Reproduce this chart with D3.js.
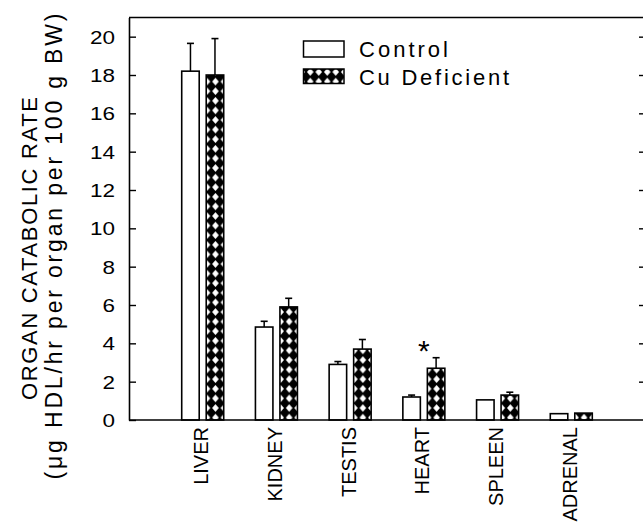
<!DOCTYPE html>
<html>
<head>
<meta charset="utf-8">
<script src="https://cdn.jsdelivr.net/npm/d3@7"></script>
<style>
  html, body { margin: 0; padding: 0; background: #fff; }
  svg { display: block; }
  text { font-family: "Liberation Sans", Arial, Helvetica, sans-serif; fill: #000; }
</style>
</head>
<body>
<svg id="chart" width="643" height="524"></svg>
<script>
// ---- data ----
const categories = ["LIVER", "KIDNEY", "TESTIS", "HEART", "SPLEEN", "ADRENAL"];
const seriesNames = ["Control", "Cu Deficient"];
const controlValues = [18.2, 4.85, 2.9, 1.2, 1.05, 0.33];
const controlErrors = [1.45, 0.3, 0.15, 0.1, 0.0, 0.0];
const cuValues = [18.0, 5.9, 3.7, 2.7, 1.3, 0.36];
const cuErrors = [1.9, 0.45, 0.5, 0.55, 0.15, 0.0];
const yTickValues = [0, 2, 4, 6, 8, 10, 12, 14, 16, 18, 20];
const significantCategories = ["HEART"];
const yTitleLine1 = "ORGAN CATABOLIC RATE";
const yTitleLine2 = "(\u03BCg HDL/hr per organ per 100 g BW)";

(function () {
// ---- layout ----
const svg = d3.select("#chart");
const plotLeft = 129, plotRight = 645, plotTop = 17.5, plotBottom = 420;

const x = d3.scalePoint().domain(categories).range([plotLeft, plotRight]).padding(1);
const sub = d3.scaleBand().domain(["control", "cu"]).range([-21, 21]).paddingInner(0.286).paddingOuter(0);
const y = d3.scaleLinear().domain([0, 21]).range([plotBottom, plotTop]);

// hatch pattern (black lattice with white diamond holes)
const defs = svg.append("defs");
const pw = 8.5, ph = 9.6, g = 0.95;
const pat = defs.append("pattern").attr("id", "xhatch")
  .attr("patternUnits", "userSpaceOnUse").attr("width", pw).attr("height", ph);
pat.append("rect").attr("width", pw).attr("height", ph).attr("fill", "#000");
pat.append("polygon")
  .attr("points", `${pw/2},${g} ${pw-g},${ph/2} ${pw/2},${ph-g} ${g},${ph/2}`)
  .attr("fill", "#fff");

const rows = categories.map((c, i) => ({
  cat: c,
  bars: [
    { key: "control", value: controlValues[i], err: controlErrors[i] },
    { key: "cu", value: cuValues[i], err: cuErrors[i] }
  ]
}));

// axes frame
svg.append("line").attr("x1", plotLeft).attr("x2", 643).attr("y1", plotTop).attr("y2", plotTop)
  .attr("stroke", "#000").attr("stroke-width", 1.6);

const yAxis = d3.axisRight(y).tickValues(yTickValues).tickSize(7).tickFormat("").tickSizeOuter(0);
svg.append("g").attr("transform", `translate(${plotLeft},0)`).call(yAxis)
  .call(gg => gg.select(".domain").attr("stroke-width", 1.6))
  .call(gg => gg.selectAll(".tick line").attr("stroke-width", 1.4));

// right-side ticks
const yAxisR = d3.axisLeft(y).tickValues(yTickValues.filter(v => v > 0)).tickSize(4).tickFormat("");
svg.append("g").attr("transform", `translate(643,0)`).call(yAxisR)
  .call(gg => gg.select(".domain").remove())
  .call(gg => gg.selectAll(".tick line").attr("stroke-width", 1.4));

// y tick labels
svg.append("g").selectAll("text").data(yTickValues).join("text")
  .attr("x", 115).attr("y", d => y(d) + 7)
  .attr("text-anchor", "end")
  .attr("font-size", 19)
  .attr("textLength", d => String(d).length === 2 ? 25 : 12.5)
  .attr("lengthAdjust", "spacingAndGlyphs")
  .text(d => d);

// y axis titles
svg.append("text")
  .attr("transform", `translate(36.5,248.5) rotate(-90)`)
  .attr("text-anchor", "middle").attr("font-size", 22)
  .attr("textLength", 303).attr("lengthAdjust", "spacing")
  .text(yTitleLine1);
svg.append("text")
  .attr("transform", `translate(62,246.5) rotate(-90)`)
  .attr("text-anchor", "middle").attr("font-size", 23)
  .attr("textLength", 466).attr("lengthAdjust", "spacing")
  .text(yTitleLine2);

// bars
const groups = svg.append("g").selectAll("g").data(rows).join("g")
  .attr("transform", d => `translate(${x(d.cat)},0)`);

groups.selectAll("rect").data(d => d.bars).join("rect")
  .attr("x", d => sub(d.key))
  .attr("width", sub.bandwidth())
  .attr("y", d => y(d.value))
  .attr("height", d => y(0) - y(d.value))
  .attr("fill", d => d.key === "control" ? "#fff" : "url(#xhatch)")
  .attr("stroke", "#000").attr("stroke-width", 1.6);

// error bars
const eb = groups.selectAll("g.err").data(d => d.bars.filter(b => b.err > 0)).join("g").attr("class", "err");
eb.append("line")
  .attr("x1", d => sub(d.key) + sub.bandwidth() / 2).attr("x2", d => sub(d.key) + sub.bandwidth() / 2)
  .attr("y1", d => y(d.value)).attr("y2", d => y(d.value + d.err))
  .attr("stroke", "#000").attr("stroke-width", 1.5);
eb.append("line")
  .attr("x1", d => sub(d.key) + sub.bandwidth() / 2 - 3.5).attr("x2", d => sub(d.key) + sub.bandwidth() / 2 + 3.5)
  .attr("y1", d => y(d.value + d.err)).attr("y2", d => y(d.value + d.err))
  .attr("stroke", "#000").attr("stroke-width", 1.6);

// bottom axis line
svg.append("line").attr("x1", plotLeft).attr("x2", 643).attr("y1", plotBottom).attr("y2", plotBottom)
  .attr("stroke", "#000").attr("stroke-width", 1.6);

// significance marker
svg.append("g").selectAll("text").data(significantCategories).join("text")
  .attr("x", d => x(d)).attr("y", d => {
    const i = categories.indexOf(d);
    return y(cuValues[i] + cuErrors[i]) + 3;
  })
  .attr("text-anchor", "middle").attr("font-size", 30)
  .text("*");

// category labels
svg.append("g").selectAll("text").data(categories).join("text")
  .attr("transform", d => `translate(${x(d) + 5.5},427) rotate(-90)`)
  .attr("text-anchor", "end").attr("font-size", 20)
  .text(d => d);

// legend
const legend = svg.append("g");
const legendRows = [
  { name: seriesNames[0], fill: "#fff", y0: 41, h: 16, len: 89 },
  { name: seriesNames[1], fill: "url(#xhatch)", y0: 69, h: 14.5, len: 150 }
];
legend.selectAll("rect").data(legendRows).join("rect")
  .attr("x", 303.5).attr("y", d => d.y0).attr("width", 40.5).attr("height", d => d.h)
  .attr("fill", d => d.fill).attr("stroke", "#000").attr("stroke-width", 1.5);
legend.selectAll("text").data(legendRows).join("text")
  .attr("x", 359).attr("y", d => d.y0 + 15.5)
  .attr("font-size", 22)
  .attr("textLength", d => d.len).attr("lengthAdjust", "spacing")
  .text(d => d.name);
})();
</script>
</body>
</html>
